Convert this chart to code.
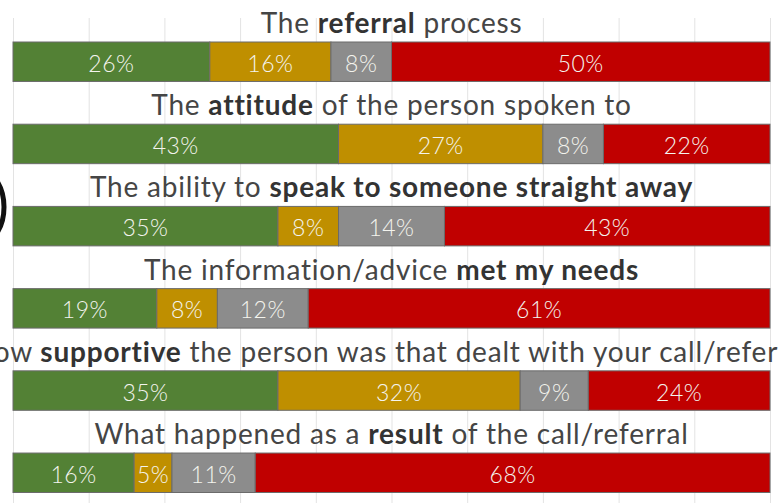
<!DOCTYPE html>
<html>
<head>
<meta charset="utf-8">
<script src="https://cdn.jsdelivr.net/npm/d3@7"></script>
<style>
  body { margin: 0; background: #fff; }
  svg { display: block; font-family: Lato, "Open Sans", sans-serif; }
</style>
</head>
<body>
<svg id="chart"></svg>
<script>
// question titles, bold part marked with true
const titles = [
  [["The ", false], ["referral", true], [" process", false]],
  [["The ", false], ["attitude", true], [" of the person spoken to", false]],
  [["The ability to ", false], ["speak to someone straight away", true]],
  [["The information/advice ", false], ["met my needs", true]],
  [["How ", false], ["supportive", true], [" the person was that dealt with your call/referral", false]],
  [["What happened as a ", false], ["result", true], [" of the call/referral", false]]
];

const series = ["green", "amber", "grey", "red"];
const green = [26, 43, 35, 19, 35, 16];
const amber = [16, 27, 8, 8, 32, 5];
const grey = [8, 8, 14, 12, 9, 11];
const red = [50, 22, 43, 61, 24, 68];
const gridTicks = [0, 10, 20, 30, 40, 50, 60, 70, 80, 90, 100];

const colours = {
  green: "#538135",
  amber: "#bf8f00",
  grey: "#8c8c8c",
  red: "#c00000"
};

const width = 779;
const height = 503;

const rows = titles.map((t, i) => ({
  idx: i,
  title: t,
  green: green[i],
  amber: amber[i],
  grey: grey[i],
  red: red[i]
}));

const svg = d3
  .select("#chart")
  .attr("width", width)
  .attr("height", height);

const x = d3
  .scaleLinear()
  .domain([0, 100])
  .range([13, 770]);

const y = d3
  .scaleBand()
  .domain(rows.map(d => d.idx))
  .range([42, 492.5])
  .paddingInner(0.52)
  .paddingOuter(0);

// gridlines
svg
  .append("g")
  .selectAll("line")
  .data(gridTicks)
  .join("line")
  .attr("x1", d => x(d) + 0.5)
  .attr("x2", d => x(d) + 0.5)
  .attr("y1", 18)
  .attr("y2", height)
  .attr("stroke", "#e3e3e3")
  .attr("stroke-width", 1);

// bit of a black ring sticking in from the left
svg
  .append("ellipse")
  .attr("cx", -22)
  .attr("cy", 207)
  .attr("rx", 26)
  .attr("ry", 38)
  .attr("fill", "none")
  .attr("stroke", "#111")
  .attr("stroke-width", 5);

const stacked = d3.stack().keys(series)(rows);

const layers = svg
  .append("g")
  .selectAll("g")
  .data(stacked)
  .join("g")
  .attr("fill", d => colours[d.key]);

layers
  .selectAll("rect")
  .data(d => d)
  .join("rect")
  .attr("x", d => x(d[0]))
  .attr("y", d => y(d.data.idx))
  .attr("width", d => x(d[1]) - x(d[0]))
  .attr("height", y.bandwidth())
  .attr("stroke", "#6b6b6b")
  .attr("stroke-width", 1);

// value labels
layers
  .selectAll("text")
  .data(d => d)
  .join("text")
  .attr("x", d => (x(d[0]) + x(d[1])) / 2)
  .attr("y", d => y(d.data.idx) + y.bandwidth() / 2 + 1)
  .attr("text-anchor", "middle")
  .attr("dominant-baseline", "central")
  .attr("font-size", "23px")
  .attr("font-weight", 300)
  .attr("letter-spacing", "0.5px")
  .attr("fill", "#f4f4ee")
  .text(d => `${d[1] - d[0]}%`);

// titles
const titleText = svg
  .append("g")
  .selectAll("text")
  .data(rows)
  .join("text")
  .attr("x", (x(0) + x(100)) / 2)
  .attr("y", d => y(d.idx) - 9)
  .attr("text-anchor", "middle")
  .attr("font-size", "28px")
  .attr("letter-spacing", "0.8px")
  .attr("fill", "#3f3f3f");

titleText
  .selectAll("tspan")
  .data(d => d.title)
  .join("tspan")
  .attr("font-weight", d => (d[1] ? 700 : 400))
  .attr("fill", d => (d[1] ? "#333" : "#454545"))
  .text(d => d[0]);
</script>
</body>
</html>
